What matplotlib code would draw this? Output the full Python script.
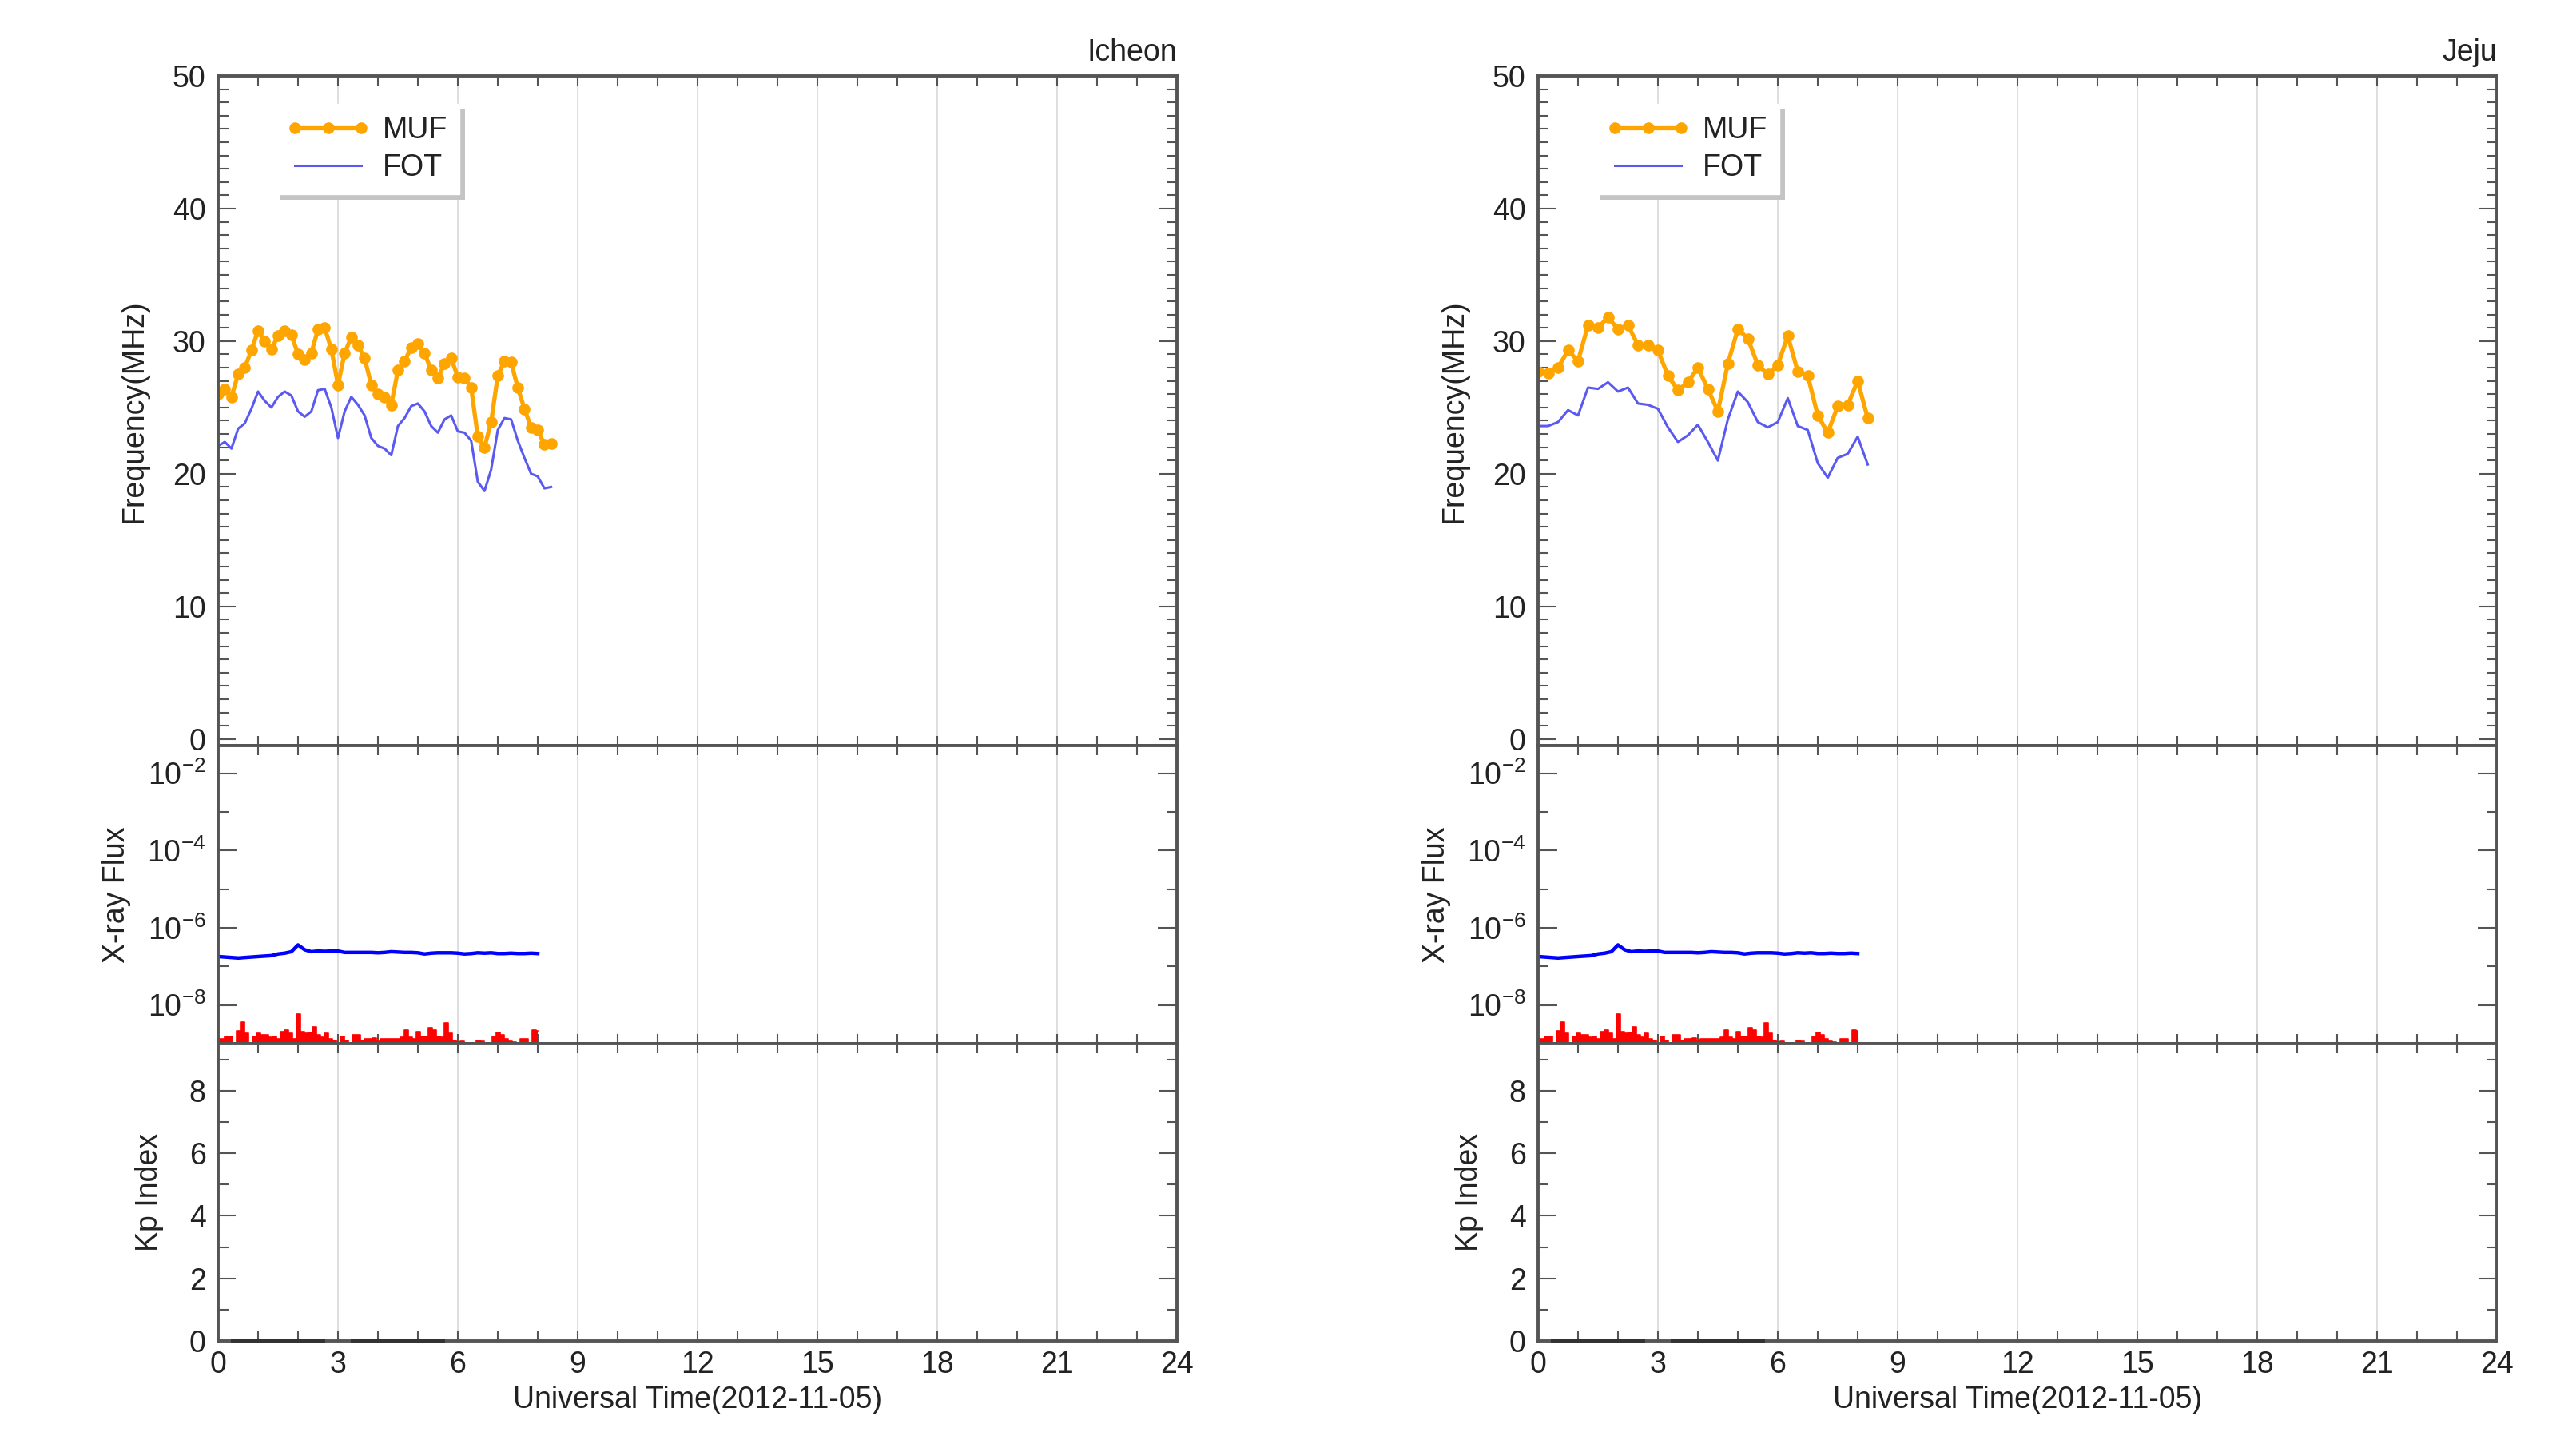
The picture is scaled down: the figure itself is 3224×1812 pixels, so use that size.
import numpy as np
import matplotlib.pyplot as plt
import matplotlib.patheffects as pe
from matplotlib.ticker import MultipleLocator, FixedLocator, FuncFormatter, NullFormatter

plt.rcParams['font.family'] = ['Liberation Sans', 'DejaVu Sans']
plt.rcParams['mathtext.fontset'] = 'custom'
plt.rcParams['mathtext.rm'] = 'Liberation Sans'
plt.rcParams['mathtext.it'] = 'Liberation Sans:italic'
plt.rcParams['mathtext.bf'] = 'Liberation Sans:bold'

#### DADOS ####

stations = ['Icheon', 'Jeju']
date_label = 'Universal Time(2012-11-05)'

# Icheon: MUF/FOT a cada 10 min
icheon_t = np.arange(51) / 6.0
icheon_muf = [26.0, 26.4, 25.8, 27.5, 28.0, 29.3, 30.8, 30.0, 29.4, 30.4,
              30.8, 30.5, 29.0, 28.6, 29.1, 30.9, 31.0, 29.4, 26.7, 29.1,
              30.3, 29.7, 28.7, 26.7, 26.0, 25.8, 25.2, 27.8, 28.5, 29.5,
              29.8, 29.1, 27.8, 27.2, 28.3, 28.7, 27.3, 27.2, 26.5, 22.8,
              22.0, 23.9, 27.4, 28.5, 28.4, 26.5, 24.9, 23.5, 23.3, 22.2,
              22.3]
icheon_fot = [22.1, 22.4, 21.9, 23.4, 23.8, 24.9, 26.2, 25.5, 25.0, 25.8,
              26.2, 25.9, 24.7, 24.3, 24.7, 26.3, 26.4, 25.0, 22.7, 24.7,
              25.8, 25.2, 24.4, 22.7, 22.1, 21.9, 21.4, 23.6, 24.2, 25.1,
              25.3, 24.7, 23.6, 23.1, 24.1, 24.4, 23.2, 23.1, 22.5, 19.4,
              18.7, 20.3, 23.3, 24.2, 24.1, 22.5, 21.2, 20.0, 19.8, 18.9,
              19.0]

# Jeju: MUF/FOT a cada 15 min
jeju_t = np.arange(34) * 0.25
jeju_muf = [27.7, 27.6, 28.0, 29.3, 28.5, 31.2, 31.0, 31.8, 30.9, 31.2,
            29.7, 29.7, 29.3, 27.4, 26.3, 26.9, 28.0, 26.4, 24.7, 28.3,
            30.9, 30.2, 28.2, 27.5, 28.2, 30.4, 27.7, 27.4, 24.4, 23.1,
            25.1, 25.2, 27.0, 24.2]
jeju_fot = [23.6, 23.6, 23.9, 24.8, 24.4, 26.5, 26.4, 26.9, 26.2, 26.5,
            25.3, 25.2, 24.9, 23.5, 22.4, 22.9, 23.7, 22.4, 21.0, 24.1,
            26.2, 25.4, 23.9, 23.5, 23.9, 25.7, 23.6, 23.3, 20.8, 19.7,
            21.2, 21.5, 22.8, 20.7]

# Raio-X (GOES): longo (1-8 A) a cada 10 min, curto (0.5-4 A) a cada 6 min
xl_t = np.arange(49) / 6.0
xl_flux = np.array([1.80, 1.75, 1.70, 1.65, 1.70, 1.75, 1.80, 1.85, 1.90, 2.10,
                    2.20, 2.40, 3.60, 2.70, 2.40, 2.50, 2.45, 2.50, 2.50, 2.30,
                    2.30, 2.30, 2.30, 2.30, 2.25, 2.30, 2.40, 2.35, 2.30, 2.30,
                    2.25, 2.10, 2.20, 2.25, 2.25, 2.25, 2.20, 2.10, 2.15, 2.25,
                    2.20, 2.25, 2.15, 2.15, 2.20, 2.15, 2.15, 2.20, 2.15]) * 1e-7
xs_t = np.arange(81) * 0.1
xs_flux = np.array([1.33, 1.33, 1.55, 1.55, 1.05, 2.14, 3.60, 1.83, 1.00, 1.55,
                    1.83, 1.69, 1.69, 1.45, 1.55, 1.33, 2.07, 2.30, 1.83, 1.33,
                    5.70, 2.07, 1.83, 1.95, 2.70, 1.69, 1.45, 1.83, 1.33, 1.23,
                    1.00, 1.55, 1.23, 1.05, 1.69, 1.69, 1.23, 1.33, 1.33, 1.37,
                    1.13, 1.33, 1.33, 1.33, 1.33, 1.33, 1.45, 2.30, 1.45, 1.33,
                    2.07, 1.55, 1.55, 2.60, 2.30, 1.55, 1.45, 3.40, 1.83, 1.23,
                    1.10, 1.17, 1.05, 1.05, 1.03, 1.23, 1.13, 1.05, 1.03, 1.55,
                    1.95, 1.69, 1.33, 1.17, 1.10, 1.03, 1.33, 1.33, 1.03, 2.30,
                    2.14]) * 1e-9

# Kp (blocos de 3 h)
kp_t = [1.5, 4.5]
kp_v = [0.0, 0.0]

#### ESTILO ####
FS = 27
AXC = '#555555'
TXC = '#222222'
MUF_C = '#FFA500'
FOT_C = '#5a5af0'

W, H = 3224.0, 1812.0
LEFTS = [273 / W, 1925 / W]
WIDTH = 1200 / W
F_BOT, F_H = 1 - 933 / H, 838 / H
X_BOT, X_H = 1 - 1306 / H, 373 / H
K_BOT, K_H = 1 - 1678 / H, 372 / H


def estilo(ax, ymaj, ymin):
    for s in ax.spines.values():
        s.set_color(AXC)
        s.set_linewidth(2.8)
    ax.set_xlim(0, 24)
    ax.xaxis.set_major_locator(MultipleLocator(3))
    ax.xaxis.set_minor_locator(MultipleLocator(1))
    ax.tick_params(which='both', direction='in', top=True, right=True,
                   color=AXC, width=1.5, labelsize=FS, labelcolor=TXC)
    ax.tick_params(axis='x', which='both', length=8.5, pad=9)
    ax.tick_params(axis='y', which='major', length=ymaj, pad=11)
    ax.tick_params(axis='y', which='minor', length=ymin)
    ax.grid(axis='x', which='major', color='#d4d4d4', lw=1.1)
    ax.set_axisbelow(True)


fig = plt.figure(figsize=(W / 100, H / 100), dpi=100)

dados = [(icheon_t, icheon_muf, icheon_fot), (jeju_t, jeju_muf, jeju_fot)]

for i, nome in enumerate(stations):
    t, muf, fot = dados[i]
    x0 = LEFTS[i]

    # Frequencia
    axf = fig.add_axes([x0, F_BOT, WIDTH, F_H])
    axf.plot(t, muf, color=MUF_C, lw=3.8, marker='o', ms=9.5, label='MUF')
    axf.plot(t, fot, color=FOT_C, lw=2.2, label='FOT')
    axf.set_ylim(-0.5, 50)
    axf.yaxis.set_major_locator(MultipleLocator(10))
    axf.yaxis.set_minor_locator(MultipleLocator(1))
    estilo(axf, 16, 9)
    axf.tick_params(labelbottom=False)
    axf.set_ylabel('Frequency(MHz)', fontsize=FS, color=TXC)
    axf.yaxis.set_label_coords(-0.073, 0.5)
    axf.set_title(nome, loc='right', fontsize=FS, color=TXC, pad=14)
    leg = axf.legend(loc='upper left', bbox_to_anchor=(0.058, 0.958),
                     borderaxespad=0, fontsize=FS, numpoints=3,
                     handlelength=2.83, handletextpad=0.4, labelspacing=0.3,
                     borderpad=0.4, fancybox=False, framealpha=1)
    fr = leg.get_frame()
    fr.set_edgecolor('white')
    fr.set_path_effects([pe.SimplePatchShadow(offset=(5, -5), shadow_rgbFace='#c4c4c4', alpha=1),
                         pe.Normal()])
    for txt in leg.get_texts():
        txt.set_color(TXC)

    # Raio-X
    axx = fig.add_axes([x0, X_BOT, WIDTH, X_H])
    axx.set_yscale('log')
    axx.fill_between(xs_t, 1e-9, xs_flux, step='mid', color='red', lw=0)
    axx.step(xs_t, xs_flux, where='mid', color='red', lw=1.2)
    axx.plot(xl_t, xl_flux, color='blue', lw=3.2)
    axx.set_ylim(1e-9, 5.2e-2)
    axx.yaxis.set_major_locator(FixedLocator([1e-8, 1e-6, 1e-4, 1e-2]))
    axx.yaxis.set_minor_locator(FixedLocator([1e-7, 1e-5, 1e-3]))
    axx.yaxis.set_major_formatter(FuncFormatter(lambda v, p: r'$10^{%d}$' % round(np.log10(v))))
    axx.yaxis.set_minor_formatter(NullFormatter())
    estilo(axx, 17, 9)
    axx.tick_params(labelbottom=False)
    axx.set_ylabel('X-ray Flux', fontsize=FS, color=TXC)
    axx.yaxis.set_label_coords(-0.091, 0.5)

    # Kp
    axk = fig.add_axes([x0, K_BOT, WIDTH, K_H])
    axk.bar(kp_t, kp_v, width=2.36, color='#333333', edgecolor='#333333',
            lw=3, clip_on=False, zorder=3)
    axk.set_ylim(0, 9.5)
    axk.yaxis.set_major_locator(MultipleLocator(2))
    axk.yaxis.set_minor_locator(MultipleLocator(1))
    estilo(axk, 16, 9)
    axk.set_xticks(np.arange(0, 25, 3))
    axk.set_ylabel('Kp Index', fontsize=FS, color=TXC)
    axk.yaxis.set_label_coords(-0.057, 0.5)
    axk.set_xlabel(date_label, fontsize=FS, color=TXC)
    axk.xaxis.set_label_coords(0.5, -0.15)

plt.savefig('out.png', dpi=100)
